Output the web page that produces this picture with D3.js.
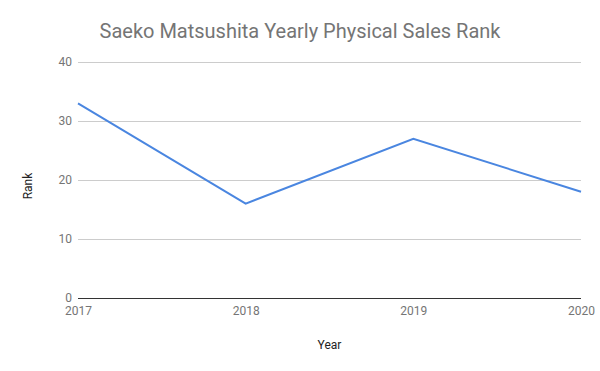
<!DOCTYPE html>
<html>
<head>
<meta charset="utf-8">
<script src="https://cdn.jsdelivr.net/npm/d3@7"></script>
<style>
  body { margin: 0; background: #fff; }
  text { font-family: Roboto, "Noto Sans", sans-serif; }
</style>
</head>
<body>
<div id="chart"></div>
<script>
const years = [2017, 2018, 2019, 2020]
const ranks = [33, 16, 27, 18]
const yTicks = [0, 10, 20, 30, 40]

const width = 600, height = 371
const margin = {top: 62, right: 19, bottom: 73, left: 78}
const innerW = width - margin.left - margin.right
const innerH = height - margin.top - margin.bottom

const svg = d3.select('#chart').append('svg')
    .attr('width', width)
    .attr('height', height)

const x = d3.scaleLinear()
    .domain(d3.extent(years))
    .range([0, innerW])
const y = d3.scaleLinear()
    .domain([0, 40])
    .range([innerH, 0])

const g = svg.append('g')
    .attr('transform', `translate(${margin.left},${margin.top})`)

// gridlines + y labels
const yAxis = g.append('g')
    .call(d3.axisLeft(y).tickValues(yTicks).tickSize(-innerW).tickPadding(6))
yAxis.select('.domain').remove()
yAxis.selectAll('.tick line')
    .attr('stroke', d => d === 0 ? '#333' : '#ccc')
    .attr('stroke-width', 1)
yAxis.selectAll('.tick text')
    .attr('fill', '#757575')
    .style('font-size', '12px')

// x labels
const xAxis = g.append('g')
    .attr('transform', `translate(0,${innerH})`)
    .call(d3.axisBottom(x).tickValues(years).tickFormat(d3.format('d')).tickSize(0).tickPadding(8))
xAxis.select('.domain').remove()
xAxis.selectAll('.tick text')
    .attr('fill', '#757575')
    .style('font-size', '12px')

// line
const line = d3.line()
    .x((d, i) => x(years[i]))
    .y(d => y(d))
g.append('path')
    .datum(ranks)
    .attr('fill', 'none')
    .attr('stroke', '#4a86e0')
    .attr('stroke-width', 2)
    .attr('d', line)

// title
svg.append('text')
    .attr('x', 300)
    .attr('y', 38)
    .attr('text-anchor', 'middle')
    .attr('fill', '#757575')
    .style('font-size', '20px')
    .text('Saeko Matsushita Yearly Physical Sales Rank')

// axis titles
svg.append('text')
    .attr('x', margin.left + innerW / 2)
    .attr('y', 349)
    .attr('text-anchor', 'middle')
    .attr('fill', '#222')
    .style('font-size', '12px')
    .text('Year')
svg.append('text')
    .attr('transform', `translate(32,${margin.top + innerH / 2 + 6}) rotate(-90)`)
    .attr('text-anchor', 'middle')
    .attr('fill', '#222')
    .style('font-size', '12px')
    .text('Rank')
</script>
</body>
</html>
